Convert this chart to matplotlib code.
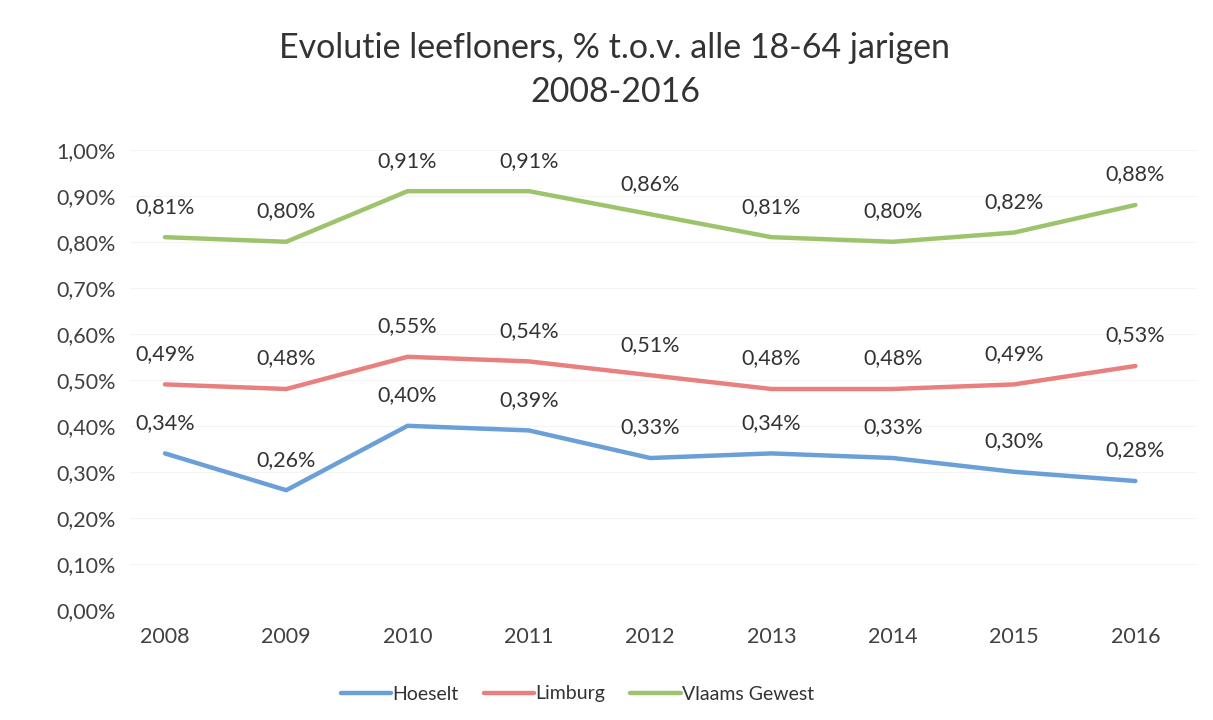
import matplotlib
matplotlib.use('Agg')

import matplotlib.pyplot as plt
from matplotlib.ticker import FuncFormatter

years = ['2008', '2009', '2010', '2011', '2012', '2013', '2014', '2015', '2016']
hoeselt = [0.34, 0.26, 0.40, 0.39, 0.33, 0.34, 0.33, 0.30, 0.28]
limburg = [0.49, 0.48, 0.55, 0.54, 0.51, 0.48, 0.48, 0.49, 0.53]
vlaams = [0.81, 0.80, 0.91, 0.91, 0.86, 0.81, 0.80, 0.82, 0.88]

series = [
    ('Hoeselt', hoeselt, '#6a9fd8'),
    ('Limburg', limburg, '#e8807f'),
    ('Vlaams Gewest', vlaams, '#9dc46c'),
]

plt.rcParams['font.family'] = ['Lato', 'DejaVu Sans']

fig = plt.figure(figsize=(12.13, 7.2), dpi=100)
ax = fig.add_axes([0.107, 0.153, 0.879, 0.639])

x = list(range(len(years)))
for name, vals, color in series:
    ax.plot(x, vals, color=color, linewidth=3.2, label=name, solid_capstyle='round')
    for xi, v in zip(x, vals):
        ax.annotate(f'{v:.2f}%'.replace('.', ','), (xi, v), xytext=(0, 22),
                    textcoords='offset points', ha='center', va='center',
                    fontsize=15.5, color='#333333')

ax.set_ylim(0, 1.0)
ax.set_yticks([i / 10 for i in range(11)])
ax.yaxis.set_major_formatter(FuncFormatter(lambda v, p: f'{v:.2f}%'.replace('.', ',')))
ax.set_xlim(-0.29, 8.5)
ax.set_xticks(x)
ax.set_xticklabels(years)
ax.tick_params(axis='both', length=0, labelsize=15.5, colors='#404040')
ax.tick_params(axis='x', pad=12)
ax.tick_params(axis='y', pad=10)
ax.grid(axis='y', color='#f4f4f4', linewidth=0.8)
for spine in ax.spines.values():
    spine.set_visible(False)

fig.suptitle('Evolutie leefloners, % t.o.v. alle 18-64 jarigen\n2008-2016',
             x=0.507, y=0.955, fontsize=24.5, color='#333333', linespacing=1.45)

fig.legend(loc='lower center', bbox_to_anchor=(0.476, 0.0), ncol=3, frameon=False,
           fontsize=14, handlelength=2.6, handletextpad=0.05, columnspacing=1.3,
           labelcolor='#333333')

fig.savefig('out.png', dpi=100, facecolor='white')
plt.close()
